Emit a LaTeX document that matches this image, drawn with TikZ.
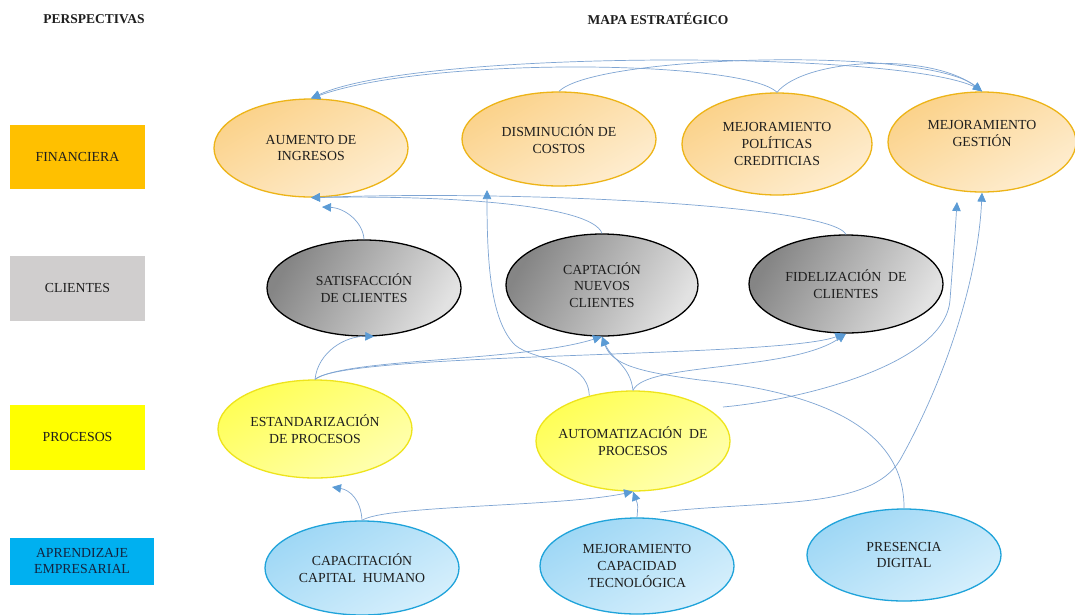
\documentclass[tikz,border=0pt]{standalone}
\usepackage{fontspec}
\setmainfont{Liberation Serif}
\usetikzlibrary{shapes.geometric,arrows.meta}
\definecolor{finbox}{HTML}{FFC000}
\definecolor{clibox}{HTML}{D0CECE}
\definecolor{probox}{HTML}{FFFF00}
\definecolor{aprbox}{HTML}{00B0F0}
\definecolor{orA}{HTML}{FBD28A}
\definecolor{orB}{HTML}{FEEDD0}
\definecolor{orLine}{HTML}{EDB417}
\definecolor{grA}{HTML}{858585}
\definecolor{grB}{HTML}{E2E2E2}
\definecolor{yeA}{HTML}{FFFF55}
\definecolor{yeB}{HTML}{FFFFB0}
\definecolor{yeLine}{HTML}{EEE41C}
\definecolor{blA}{HTML}{9ED7F5}
\definecolor{blB}{HTML}{D6EFFC}
\definecolor{blLine}{HTML}{1FA3DA}
\definecolor{lineblue}{HTML}{7FA5D3}
\definecolor{tipblue}{HTML}{5B9BD5}
\definecolor{txt}{HTML}{1E1E1E}
\definecolor{aprtxt}{HTML}{14233F}
\tikzset{
  basefont/.style={font=\fontsize{13.8}{16.7}\selectfont, text=txt, align=center},
  persp/.style={basefont, rectangle, inner sep=0pt},
  obj/.style={basefont, ellipse, inner ysep=0pt, inner xsep=-25pt, line width=1.3pt},
  finobj/.style={obj, draw=orLine, top color=orA, bottom color=orB, shading angle=30},
  cliobj/.style={obj, draw=black, top color=grA, bottom color=grB, shading angle=60},
  proobj/.style={obj, draw=yeLine, top color=yeA, bottom color=yeB, shading angle=30},
  aprobj/.style={obj, draw=blLine, top color=blA, bottom color=blB, shading angle=30},
  conn/.style={draw=lineblue, line width=0.7pt, -{Triangle[length=9pt,width=8.5pt,color=tipblue]}},
  heading/.style={font=\fontsize{13.5}{16.5}\selectfont\bfseries, text=txt}
}
\begin{document}
\begin{tikzpicture}[x=1pt,y=-1pt]
\useasboundingbox (0,0) rectangle (1075,614);
\fill[white] (0,0) rectangle (1075,614);

% headings
\node[heading] (h1) at (94,19) {PERSPECTIVAS};
\node[heading] (h2) at (658,19) {MAPA ESTRATÉGICO};

% perspective boxes
\node[persp, fill=finbox, minimum width=135pt, minimum height=64pt] (pfin) at (77.5,157) {FINANCIERA};
\node[persp, fill=clibox, minimum width=135pt, minimum height=65pt] (pcli) at (77.5,288) {CLIENTES};
\node[persp, fill=probox, minimum width=135pt, minimum height=65pt] (ppro) at (77.5,437) {PROCESOS};
\node[persp, fill=aprbox, minimum width=144pt, minimum height=47pt, text=aprtxt] (papr) at (82,561) {APRENDIZAJE\\EMPRESARIAL};

% financial objectives
\node[finobj, minimum width=194pt, minimum height=98pt] (aum) at (311,148) {AUMENTO DE\\INGRESOS};
\node[finobj, minimum width=194pt, minimum height=94pt] (dis) at (559,139) {DISMINUCIÓN DE\\COSTOS};
\node[finobj, minimum width=190pt, minimum height=102pt] (pol) at (777,144) {MEJORAMIENTO\\POLÍTICAS\\CREDITICIAS};
\node[finobj, minimum width=188pt, minimum height=100pt] (gest) at (982,142) {MEJORAMIENTO\\GESTIÓN\\\mbox{}};

% client objectives
\node[cliobj, minimum width=194pt, minimum height=96pt] (sat) at (364,288) {SATISFACCIÓN\\DE CLIENTES};
\node[cliobj, minimum width=192pt, minimum height=102pt] (capt) at (602,285) {CAPTACIÓN\\NUEVOS\\CLIENTES};
\node[cliobj, minimum width=194pt, minimum height=98pt] (fid) at (846,284) {FIDELIZACIÓN\ \ DE\\CLIENTES};

% process objectives
\node[proobj, minimum width=194pt, minimum height=98pt] (est) at (315,429) {ESTANDARIZACIÓN\\DE PROCESOS};
\node[proobj, minimum width=194pt, minimum height=100pt] (auto) at (633,441) {AUTOMATIZACIÓN\ \ DE\\PROCESOS};

% learning objectives
\node[aprobj, minimum width=194pt, minimum height=94pt] (capa) at (362,568) {CAPACITACIÓN\\CAPITAL\ \ HUMANO};
\node[aprobj, minimum width=194pt, minimum height=96pt] (capac) at (637,566) {MEJORAMIENTO\\CAPACIDAD\\TECNOLÓGICA};
\node[aprobj, minimum width=194pt, minimum height=92pt] (pres) at (904,555) {PRESENCIA\\DIGITAL};

% free ends
\coordinate (tSat) at (322,207);
\coordinate (tDis) at (487,190);
\coordinate (tGes) at (957,202);
\coordinate (tEst) at (332,487);
\coordinate (sAuto) at (723,407);
\coordinate (sCapac) at (660,512);

% connectors among financial objectives
\draw[conn] (gest.north) .. controls (935,50) and (420,48) .. (aum.north);
\draw[conn] (pol.north) .. controls (745,60) and (430,56) .. (aum.north);
\draw[conn] (pol.north) .. controls (805,58) and (930,52) .. (gest.north);
\draw[conn] (dis.north) .. controls (595,55) and (925,46) .. (gest.north);

% clients -> financial
\draw[conn] (sat.north) .. controls (363,222) and (345,208) .. (tSat);
\draw[conn] (capt.north) .. controls (592,205) and (450,195) .. (aum.south);
\draw[conn] (fid.north) .. controls (830,205) and (520,190) .. (aum.south);

% processes -> financial
\draw[conn] (auto.134) .. controls (588,358) and (535,362) .. (515,345) .. controls (490,320) and (487,260) .. (tDis);
\draw[conn] (sAuto) .. controls (800,400) and (945,365) .. (950,300) .. controls (953,260) and (955,235) .. (tGes);

% learning -> financial
\draw[conn] (sCapac) .. controls (770,500) and (870,510) .. (900,460) .. controls (945,380) and (978,280) .. (gest.south);

% processes -> clients
\draw[conn] (est.north) .. controls (318,352) and (345,336) .. (sat.-78);
\draw[conn] (est.north) .. controls (345,358) and (520,362) .. (capt.south);
\draw[conn] (est.north) .. controls (345,352) and (780,358) .. (fid.-92);
\draw[conn] (auto.north) .. controls (630,365) and (612,360) .. (capt.south);
\draw[conn] (auto.north) .. controls (645,362) and (790,372) .. (fid.south);

% learning -> clients
\draw[conn] (pres.north) .. controls (905,420) and (800,390) .. (700,380) .. controls (640,372) and (612,365) .. (capt.south);

% learning -> processes
\draw[conn] (capa.north) .. controls (361,500) and (350,490) .. (tEst);
\draw[conn] (capa.north) .. controls (385,505) and (560,507) .. (auto.south);
\draw[conn] (capac.north) .. controls (638,505) .. (auto.south);
\end{tikzpicture}
\end{document}
